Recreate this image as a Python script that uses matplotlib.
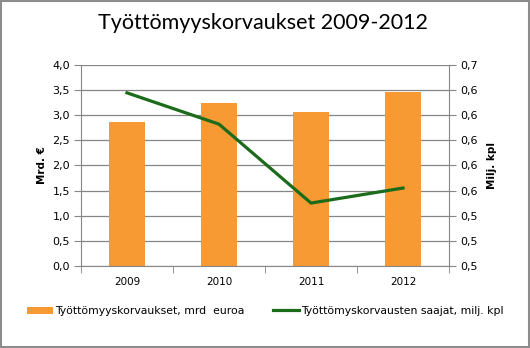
import matplotlib
matplotlib.use("Agg")
import matplotlib.pyplot as plt
import numpy as np
from matplotlib.ticker import FixedLocator, FuncFormatter

years = ["2009", "2010", "2011", "2012"]
korvaukset = [2.87, 3.25, 3.07, 3.47]          # mrd euroa
saajat = [0.638, 0.613, 0.550, 0.562]          # milj. kpl
left_ticks = [0.0, 0.5, 1.0, 1.5, 2.0, 2.5, 3.0, 3.5, 4.0]
right_ticks = [0.50, 0.52, 0.54, 0.56, 0.58, 0.60, 0.62, 0.64, 0.66]

plt.rcParams['font.family'] = ['DejaVu Sans']
grid_c = '#868686'
bar_c = '#F79A34'
line_c = '#1B6B1B'

fig = plt.figure(figsize=(5.3, 3.48), dpi=100)
fig.patch.set_facecolor('white')
# outer border
fig.add_artist(plt.Rectangle((0.001, 0.002), 0.997, 0.995, transform=fig.transFigure,
                             fill=False, edgecolor='#8c8c8c', linewidth=1.5))

ax = fig.add_axes([0.1528, 0.2365, 0.6944, 0.5759])
x = np.arange(len(years))
bars = ax.bar(x, korvaukset, width=0.4, color=bar_c, zorder=2,
              label='Työttömyyskorvaukset, mrd  euroa')
ax.set_xlim(-0.5, len(years) - 0.5)
ax.set_ylim(left_ticks[0], left_ticks[-1])
ax.yaxis.set_major_locator(FixedLocator(left_ticks))
ax.yaxis.set_major_formatter(FuncFormatter(lambda v, p: f"{v:.1f}".replace('.', ',')))
ax.set_xticks(x)
ax.set_xticklabels(years)
ax.xaxis.set_minor_locator(FixedLocator(np.arange(-0.5, len(years), 1.0)))
ax.tick_params(axis='x', which='major', length=0, pad=8, labelsize=7.5)
ax.tick_params(axis='x', which='minor', length=5, color=grid_c, direction='out')
ax.tick_params(axis='y', length=5, color=grid_c, labelsize=8, pad=3)
ax.grid(axis='y', color=grid_c, linewidth=0.9, zorder=0)
for s in ['top', 'right']:
    ax.spines[s].set_visible(False)
for s in ['left', 'bottom']:
    ax.spines[s].set_color(grid_c)
ax.set_ylabel('Mrd. €', fontsize=7.5, fontweight='bold', labelpad=4)

ax2 = ax.twinx()
line, = ax2.plot(x, saajat, color=line_c, linewidth=2.3, zorder=3,
                 label='Työttömyskorvausten saajat, milj. kpl')
ax2.set_ylim(right_ticks[0], right_ticks[-1])
ax2.yaxis.set_major_locator(FixedLocator(right_ticks))
ax2.yaxis.set_major_formatter(FuncFormatter(lambda v, p: f"{round(v + 1e-9, 1):.1f}".replace('.', ',')))
ax2.tick_params(axis='y', length=5, color=grid_c, labelsize=8, pad=3)
for s in ['top', 'left', 'bottom']:
    ax2.spines[s].set_visible(False)
ax2.spines['right'].set_color(grid_c)
ax2.set_ylabel('Milj. kpl', fontsize=7.5, fontweight='bold', labelpad=7)

fig.text(0.497, 0.935, 'Työttömyyskorvaukset 2009-2012', ha='center', va='center',
         fontsize=15.5, family=['Lato', 'DejaVu Sans'])

fig.legend(handles=[bars, line], loc='center', bbox_to_anchor=(0.5, 0.106), ncol=2,
           frameon=False, fontsize=7.8, handlelength=2.4, handletextpad=0.2,
           columnspacing=2.6)

fig.savefig('out.png', dpi=100, facecolor='white')
